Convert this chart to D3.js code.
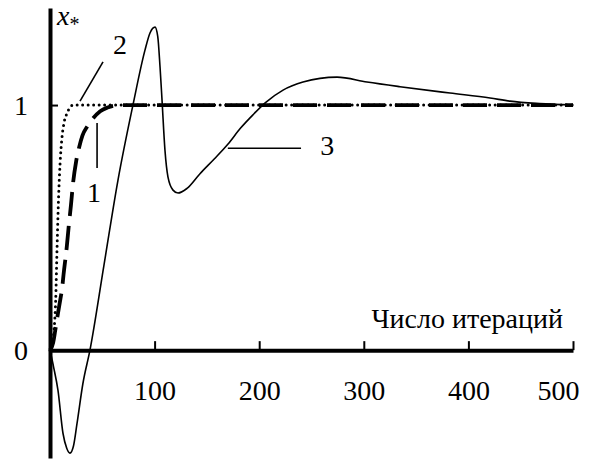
<!DOCTYPE html>
<html>
<head>
<meta charset="utf-8">
<script src="https://cdn.jsdelivr.net/npm/d3@7"></script>
<style>
  body { margin: 0; background: #fff; }
  svg text { font-family: "Liberation Serif", "Times New Roman", Times, "DejaVu Serif", serif; fill: #000; }
</style>
</head>
<body>
<div id="chart"></div>
<script>
// curve 1 (dashed)
var iter1 = [0, 3, 5, 7.6, 10, 11.5, 13, 16, 18, 20, 22, 25, 28, 31, 36, 41, 48, 55, 62, 70, 500];
var val1  = [0, 0.03, 0.08, 0.15, 0.21, 0.25, 0.31, 0.42, 0.51, 0.59, 0.68, 0.77, 0.83, 0.875, 0.915, 0.945, 0.975, 0.99, 0.998, 1, 1];

// curve 2 (dotted)
var iter2 = [0, 2, 3.8, 5.4, 6.7, 8, 9.6, 11.5, 13.5, 16.3, 19, 22, 500];
var val2  = [0, 0.02, 0.08, 0.2, 0.41, 0.6, 0.76, 0.87, 0.93, 0.967, 0.99, 1, 1];

// curve 3 (solid)
var iter3 = [0, 3.5, 7.6, 12.4, 16, 19.1, 22.5, 25.8, 31.5, 38.2, 51.6, 65, 79.3, 90.8, 95.6, 100.4,
             103, 105.2, 107.1, 109.9, 112.8, 117.6, 122.4, 131, 143.4, 157, 170, 182, 194,
             206, 222.8, 241.9, 274.4, 303, 334.6, 382.4, 420.7, 439.8, 468, 500];
var val3  = [0, -0.07, -0.163, -0.339, -0.40, -0.42, -0.39, -0.30, -0.135, 0, 0.347, 0.694, 1.0, 1.224, 1.294, 1.318,
             1.28, 1.155, 1.02, 0.816, 0.706, 0.653, 0.641, 0.66, 0.72, 0.78, 0.84, 0.905, 0.96,
             1.01, 1.061, 1.094, 1.114, 1.094, 1.075, 1.049, 1.029, 1.016, 1.006, 1.0];

var xTicks = [100, 200, 300, 400, 500];
var yTicks = [0, 1];
var xTitle = "Число итераций";

var curveLabels = ["1", "2", "3"];
var labelIter = [42, 67, 265];
var labelVal = [0.604, 1.208, 0.796];
// leader lines: [iterA, valA, iterB, valB]
var leaders = [[45, 0.927, 45, 0.743], [28.7, 1.016, 50.7, 1.176], [170, 0.824, 240, 0.824]];

var width = 590, height = 459;

var x = d3.scaleLinear().domain([0, 500]).range([50, 573]);
var y = d3.scaleLinear().domain([-0.44, 1.396]).range([458, 8]);

var svg = d3.select("#chart").append("svg")
  .attr("width", width)
  .attr("height", height);

function toPts(xs, ys) {
  return xs.map(function(d, i) { return [d, ys[i]]; });
}

var line = d3.line()
  .x(function(d) { return x(d[0]); })
  .y(function(d) { return y(d[1]); })
  .curve(d3.curveMonotoneX);

// axes
var xAxis = svg.append("g")
  .attr("transform", "translate(0," + y(0) + ")")
  .call(d3.axisBottom(x).tickValues(xTicks).tickSizeInner(-9).tickSizeOuter(0).tickPadding(30));

var yAxis = svg.append("g")
  .attr("transform", "translate(" + x(0) + ",0)")
  .call(d3.axisLeft(y).tickValues(yTicks).tickSizeInner(-8).tickSizeOuter(0).tickPadding(22)
        .tickFormat(d3.format("d")));

[xAxis, yAxis].forEach(function(a) {
  a.attr("font-family", null);
  a.select(".domain").attr("stroke", "#000").attr("stroke-width", 4);
  a.selectAll(".tick line").attr("stroke", "#000").attr("stroke-width", 2);
  a.selectAll(".tick text").attr("font-size", 28);
});
// last label pulled inside, as in the original
xAxis.selectAll(".tick text").filter(function(d) { return d === 500; }).attr("dx", -15);

// curves
svg.append("path")
  .datum(toPts(iter3, val3))
  .attr("d", line)
  .attr("fill", "none")
  .attr("stroke", "#000")
  .attr("stroke-width", 1.6);

svg.append("path")
  .datum(toPts(iter1, val1))
  .attr("d", line)
  .attr("fill", "none")
  .attr("stroke", "#000")
  .attr("stroke-width", 3.8)
  .attr("stroke-dasharray", "24,10");

svg.append("path")
  .datum(toPts(iter2, val2))
  .attr("d", line)
  .attr("fill", "none")
  .attr("stroke", "#000")
  .attr("stroke-width", 3)
  .attr("stroke-linecap", "round")
  .attr("stroke-dasharray", "0,5.5");

// leaders and labels
svg.selectAll(".leader")
  .data(leaders)
  .enter().append("line")
  .attr("class", "leader")
  .attr("x1", function(d) { return x(d[0]); })
  .attr("y1", function(d) { return y(d[1]); })
  .attr("x2", function(d) { return x(d[2]); })
  .attr("y2", function(d) { return y(d[3]); })
  .attr("stroke", "#000")
  .attr("stroke-width", 1.6);

svg.selectAll(".clabel")
  .data(curveLabels)
  .enter().append("text")
  .attr("class", "clabel")
  .attr("x", function(d, i) { return x(labelIter[i]); })
  .attr("y", function(d, i) { return y(labelVal[i]); })
  .attr("text-anchor", "middle")
  .attr("font-size", 28)
  .text(function(d) { return d; });

// titles
svg.append("text")
  .attr("x", 563)
  .attr("y", 328)
  .attr("text-anchor", "end")
  .attr("font-size", 28)
  .text(xTitle);

var yt = svg.append("text")
  .attr("x", 57)
  .attr("y", 25)
  .attr("font-size", 28);
yt.append("tspan").attr("font-style", "italic").text("x");
yt.append("tspan").attr("font-size", 20).attr("dy", 6).text("*");
</script>
</body>
</html>
